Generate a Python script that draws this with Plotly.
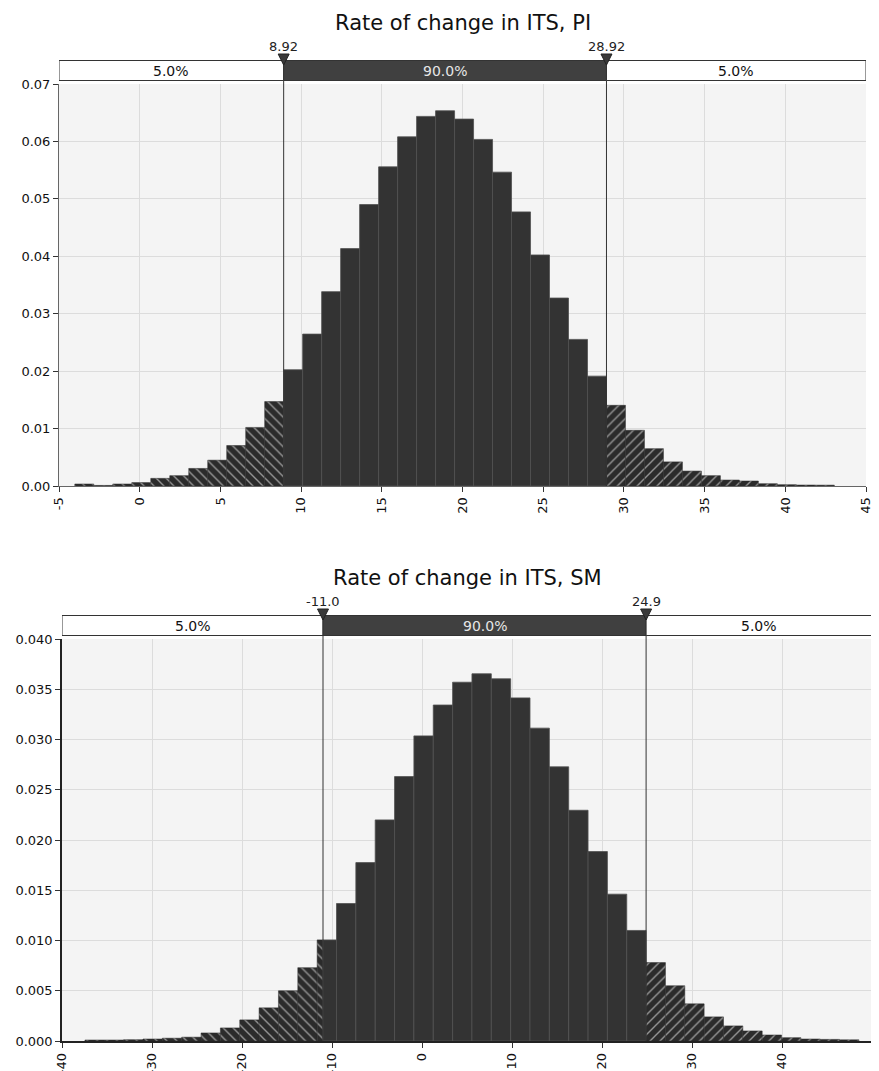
import plotly.graph_objects as go

# ---------------- data: Rate of change in ITS, PI ----------------
pi_title = "Rate of change in ITS, PI"
pi_first_edge = -4.0215
pi_bin_width = 1.1765
pi_density = [
    0.00035, 0.0001, 0.00035, 0.0006, 0.00133, 0.0018, 0.00306, 0.0045, 0.00705, 0.0102, 0.0147,
    0.02024, 0.02645, 0.03384, 0.04134, 0.04901, 0.05557, 0.0608, 0.06436, 0.06534, 0.06389,
    0.06035, 0.05465, 0.04773, 0.04023, 0.03273, 0.02553, 0.01913,
    0.01405, 0.0097, 0.0065, 0.0042, 0.0026, 0.0018, 0.00104, 0.00087, 0.0004, 0.00023, 0.00017, 0.00015,
]
pi_quantiles = [8.92, 28.92]
pi_quantile_labels = ["8.92", "28.92"]
pi_pct_labels = ["5.0%", "90.0%", "5.0%"]
pi_x_range = [-5, 45]
pi_x_ticks = [-5, 0, 5, 10, 15, 20, 25, 30, 35, 40, 45]
pi_y_ticks = [0.00, 0.01, 0.02, 0.03, 0.04, 0.05, 0.06, 0.07]
pi_y_ticklabels = ["0.00", "0.01", "0.02", "0.03", "0.04", "0.05", "0.06", "0.07"]

# ---------------- data: Rate of change in ITS, SM ----------------
sm_title = "Rate of change in ITS, SM"
sm_first_edge = -37.45
sm_bin_width = 2.15
sm_density = [
    0.0001, 0.0001, 0.00013, 0.0002, 0.00028, 0.00038, 0.0008, 0.0013, 0.0021, 0.0033, 0.0050, 0.0073,
    0.01006,
    0.01368, 0.01775, 0.0220, 0.02631, 0.03036, 0.03343, 0.0357, 0.03654, 0.03604, 0.03414,
    0.03113, 0.02728, 0.02296, 0.01885, 0.01461, 0.0110,
    0.0078, 0.0055, 0.0037, 0.0024, 0.0015, 0.0010, 0.0006, 0.00033, 0.0002, 0.00016, 0.00012,
]
sm_quantiles = [-11.0, 24.9]
sm_quantile_labels = ["-11.0", "24.9"]
sm_pct_labels = ["5.0%", "90.0%", "5.0%"]
sm_x_range = [-40, 50]
sm_x_ticks = [-40, -30, -20, -10, 0, 10, 20, 30, 40, 50]
sm_y_ticks = [0.000, 0.005, 0.010, 0.015, 0.020, 0.025, 0.030, 0.035, 0.040]
sm_y_ticklabels = ["0.000", "0.005", "0.010", "0.015", "0.020", "0.025", "0.030", "0.035", "0.040"]

# ---------------- layout constants ----------------
PAGE_OFFSET = 8  # default body margin of the html page
W, H = 879 - PAGE_OFFSET, 1071 - PAGE_OFFSET
FONT = "DejaVu Sans"
DARK = "#333333"
panels = [
    dict(title=pi_title, first=pi_first_edge, width=pi_bin_width, dens=pi_density,
         q=pi_quantiles, qlab=pi_quantile_labels, pct=pi_pct_labels, xr=pi_x_range,
         xt=pi_x_ticks, yt=pi_y_ticks, ytl=pi_y_ticklabels, yr=[0, 0.07],
         px=(59, 866), py=(84, 486), axcol="#666666", axw=1),
    dict(title=sm_title, first=sm_first_edge, width=sm_bin_width, dens=sm_density,
         q=sm_quantiles, qlab=sm_quantile_labels, pct=sm_pct_labels, xr=sm_x_range,
         xt=sm_x_ticks, yt=sm_y_ticks, ytl=sm_y_ticklabels, yr=[0, 0.04],
         px=(62, 872), py=(639, 1041), axcol="#222222", axw=1.5),
]


def split_bins(first, width, heights, lo, hi):
    segs = {"left": ([], [], []), "mid": ([], [], []), "right": ([], [], [])}
    for i, h in enumerate(heights):
        a = first + i * width
        b = a + width
        parts = (("left", a, min(b, lo)), ("mid", max(a, lo), min(b, hi)), ("right", max(a, hi), b))
        for name, s, e in parts:
            if e - s > 0.02:
                xs, ws, ys = segs[name]
                xs.append((s + e) / 2)
                ws.append(e - s)
                ys.append(h)
    return segs


fig = go.Figure()
shapes = []
annotations = []
layout_axes = {}

for k, p in enumerate(panels, start=1):
    xa = "x" if k == 1 else f"x{k}"
    ya = "y" if k == 1 else f"y{k}"
    lo, hi = p["q"]
    segs = split_bins(p["first"], p["width"], p["dens"], lo, hi)
    plot_h = p["py"][1] - p["py"][0]
    plot_w = p["px"][1] - p["px"][0]
    units_per_px = (p["xr"][1] - p["xr"][0]) / plot_w

    def dy(px_above):
        return 1 + px_above / plot_h

    for name in ("left", "mid", "right"):
        xs, ws, ys = segs[name]
        if name == "mid":
            marker = dict(color=DARK, line=dict(color="#505050", width=0.8))
        else:
            marker = dict(
                color="#2b2b2b",
                line=dict(color="#2b2b2b", width=0.5),
                pattern=dict(shape="\\" if name == "left" else "/", fgcolor="#ffffff",
                             bgcolor="#2b2b2b", size=7, solidity=0.2, fillmode="overlay"),
            )
        fig.add_trace(go.Bar(x=xs, y=ys, width=ws, marker=marker, xaxis=xa, yaxis=ya,
                             hoverinfo="skip", showlegend=False))

    xdom = [(p["px"][0] - PAGE_OFFSET) / W, (p["px"][1] - PAGE_OFFSET) / W]
    ydom = [1 - (p["py"][1] - PAGE_OFFSET) / H, 1 - (p["py"][0] - PAGE_OFFSET) / H]
    xkey = "xaxis" if k == 1 else f"xaxis{k}"
    ykey = "yaxis" if k == 1 else f"yaxis{k}"
    layout_axes[xkey] = dict(
        domain=xdom, range=p["xr"], anchor=ya, tickmode="array", tickvals=p["xt"],
        ticktext=[str(v) for v in p["xt"]], tickangle=-90, ticks="outside", ticklen=5,
        tickcolor="#333333", showgrid=True, gridcolor="#dcdcdc", gridwidth=1,
        showline=True, linecolor=p["axcol"], linewidth=p["axw"], zeroline=False,
        tickfont=dict(family=FONT, size=13, color="#111111"), automargin=False,
    )
    layout_axes[ykey] = dict(
        domain=ydom, range=p["yr"], anchor=xa, tickmode="array", tickvals=p["yt"],
        ticktext=p["ytl"], ticks="outside", ticklen=5, tickcolor="#333333",
        showgrid=True, gridcolor="#dcdcdc", gridwidth=1, showline=True,
        linecolor=p["axcol"], linewidth=p["axw"], zeroline=False,
        tickfont=dict(family=FONT, size=13, color="#111111"), automargin=False,
    )

    ydomref = f"{ya} domain"
    xdomref = f"{xa} domain"
    box_b, box_t = dy(3.5), dy(23.5)
    # quantile vertical lines
    for q in p["q"]:
        shapes.append(dict(type="line", xref=xa, yref=ydomref, x0=q, x1=q, y0=0, y1=box_t,
                           line=dict(color="#333333", width=1), layer="above"))
    # quantile band
    edges = [p["xr"][0], lo, hi, p["xr"][1]]
    fills = ["#ffffff", "#404040", "#ffffff"]
    tcols = ["#111111", "#e6e6e6", "#111111"]
    for i in range(3):
        shapes.append(dict(type="rect", xref=xa, yref=ydomref, x0=edges[i], x1=edges[i + 1],
                           y0=box_b, y1=box_t, fillcolor=fills[i],
                           line=dict(color="#333333", width=1), layer="above"))
        annotations.append(dict(xref=xa, yref=ydomref, x=(edges[i] + edges[i + 1]) / 2,
                                y=(box_b + box_t) / 2, text=p["pct"][i], showarrow=False,
                                font=dict(family=FONT, size=14, color=tcols[i]),
                                xanchor="center", yanchor="middle"))
    # triangle markers + labels
    hw = 5.5 * units_per_px
    for q, lab in zip(p["q"], p["qlab"]):
        y_top, y_apex = dy(30), dy(19)
        shapes.append(dict(type="path", xref=xa, yref=ydomref,
                           path=f"M {q - hw} {y_top} L {q + hw} {y_top} L {q} {y_apex} Z",
                           fillcolor="#3a3a3a", line=dict(color="#222222", width=1), layer="above"))
        annotations.append(dict(xref=xa, yref=ydomref, x=q, y=dy(38), text=lab, showarrow=False,
                                font=dict(family=FONT, size=13, color="#222222"),
                                xanchor="center", yanchor="middle"))
    # title
    annotations.append(dict(xref=xdomref, yref=ydomref, x=0.5, y=dy(61), text=p["title"],
                            showarrow=False, font=dict(family=FONT, size=21, color="#111111"),
                            xanchor="center", yanchor="middle"))

fig.update_layout(
    template="none",
    width=W, height=H,
    margin=dict(l=0, r=0, t=0, b=0),
    paper_bgcolor="#ffffff",
    plot_bgcolor="#f4f4f4",
    barmode="overlay",
    showlegend=False,
    shapes=shapes,
    annotations=annotations,
    font=dict(family=FONT),
    **layout_axes,
)

fig.write_html("out.html")
